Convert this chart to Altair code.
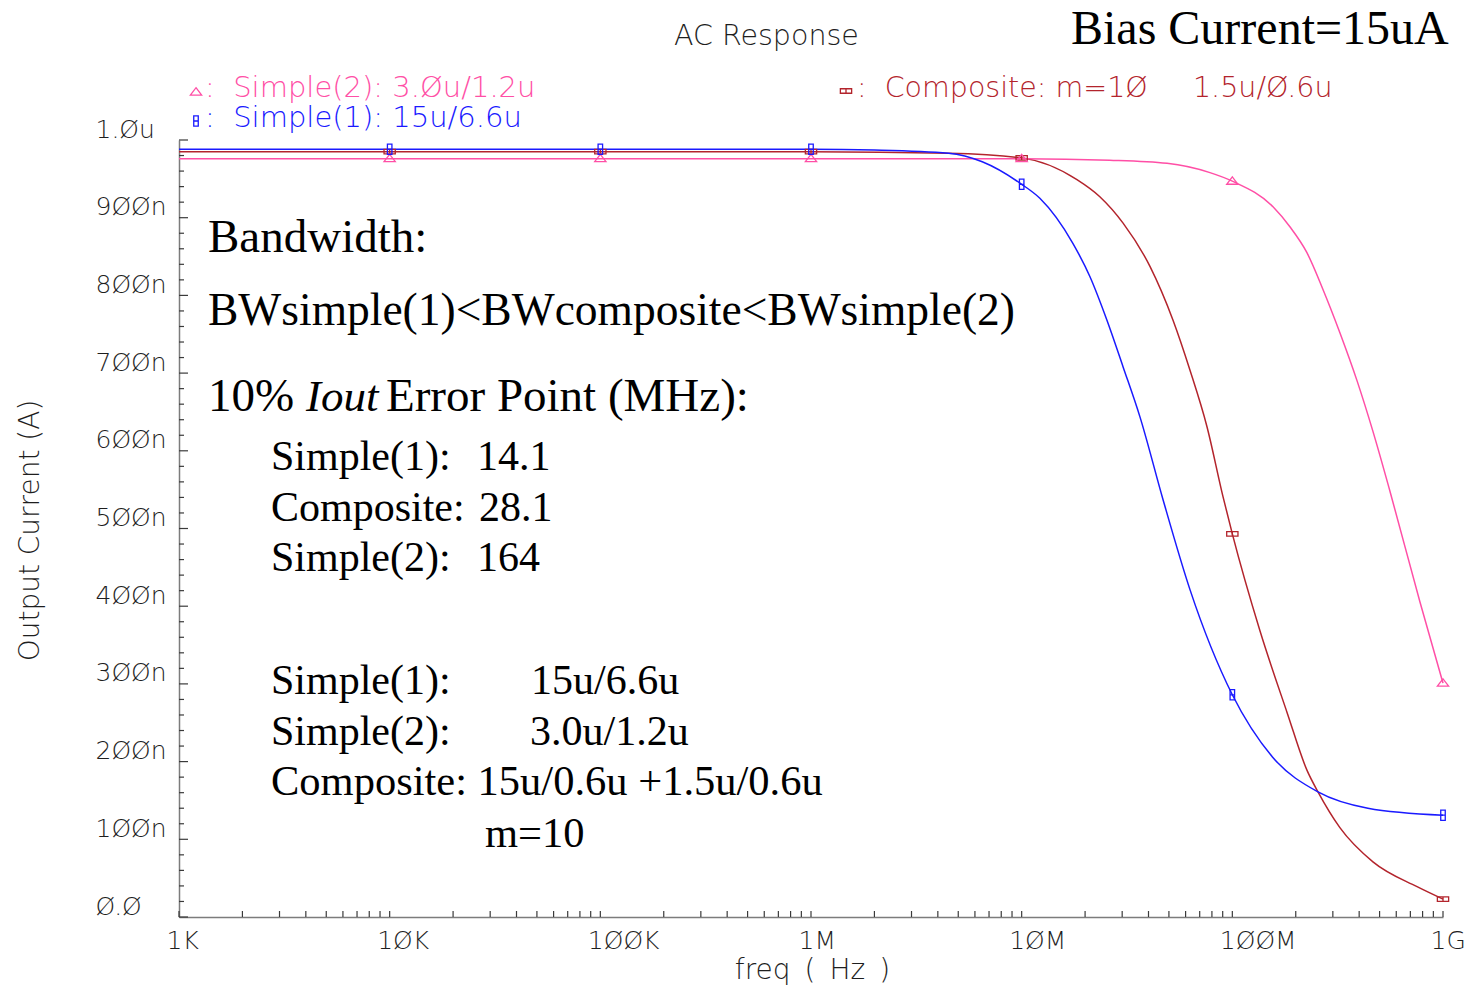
import altair as alt
import pandas as pd

# ---------------- data (freq in Hz, output current in nA) ----------------
series_names = ["Simple(1)", "Composite", "Simple(2)"]
series_colors = ["#1a1aff", "#b3242c", "#ff4fa6"]

simple1_freq = [1e3, 1e4, 1e5, 1e6, 2e6, 4.5e6, 6.5e6, 1e7, 1.22e7, 1.75e7, 2.11e7, 2.54e7,
                3.03e7, 3.64e7, 4.69e7, 6.3e7, 1e8, 1.55e8, 2.55e8, 4.4e8, 1e9]
simple1_cur = [988, 988, 988, 988, 987, 983, 972, 943, 925, 867, 824, 768,
               708, 644, 537, 421, 286, 206, 161, 140, 131]

composite_freq = [1e3, 1e4, 1e5, 1e6, 4.5e6, 1e7, 1.83e7, 2.35e7, 3.03e7, 4.07e7, 5.23e7, 6.29e7,
                  7.58e7, 9.03e7, 1e8, 1.35e8, 1.82e8, 2.26e8, 2.55e8, 3.24e8, 4.65e8, 7.53e8, 1e9]
composite_cur = [985, 985, 985, 985, 983, 977, 949, 927, 893, 837, 768, 704,
                 631, 541, 493, 369, 263, 189, 161, 115, 71, 39, 23]

simple2_freq = [1e3, 1e4, 1e5, 1e6, 1e7, 2.62e7, 4.9e7, 7.83e7, 1e8, 1.56e8, 1.88e8, 2.26e8,
                2.69e8, 3.24e8, 3.91e8, 4.65e8, 5.6e8, 7.78e8, 1e9]
simple2_cur = [976, 976, 976, 976, 976, 974, 970, 958, 947, 914, 888, 855,
               808, 752, 690, 625, 548, 405, 301]

marker_freqs = [1e4, 1e5, 1e6, 1e7, 1e8, 1e9]

x_tick_values = [1e3, 1e4, 1e5, 1e6, 1e7, 1e8, 1e9]
x_tick_labels = ["1K", "1ØK", "1ØØK", "1M", "1ØM", "1ØØM", "1G"]
y_tick_values = [0, 100, 200, 300, 400, 500, 600, 700, 800, 900, 1000]
y_tick_labels = ["Ø.Ø", "1ØØn", "2ØØn", "3ØØn", "4ØØn", "5ØØn", "6ØØn", "7ØØn", "8ØØn", "9ØØn", "1.Øu"]

# ---------------- layout ----------------
L, T, W, H = 179, 140, 1264, 777
CAD_FONT = "DejaVu Sans"
SERIF = "Liberation Serif"
AXIS_GRAY = "#7c7c7c"
TICK_COL = "#3a3a3a"
TEXT_COL = "#1e1e1e"
NB = "\u00a0"
EN = "\u2002"


def frame(freqs, curs, name):
    return pd.DataFrame({"freq": freqs, "cur": curs, "series": name})


df1 = frame(simple1_freq, simple1_cur, "Simple(1)")
dfc = frame(composite_freq, composite_cur, "Composite")
df2 = frame(simple2_freq, simple2_cur, "Simple(2)")

xscale = alt.Scale(type="log", domain=[1e3, 1e9], nice=False)
yscale = alt.Scale(domain=[0, 1000], nice=False, zero=True)

x_label_expr = " : ".join(
    [f"datum.value < {v * 3:g} ? '{lab}'" for v, lab in zip(x_tick_values[:-1], x_tick_labels[:-1])]
) + f" : '{x_tick_labels[-1]}'"
y_label_expr = " : ".join(
    [f"datum.value < {v + 50} ? '{lab}'" for v, lab in zip(y_tick_values[:-1], y_tick_labels[:-1])]
) + f" : '{y_tick_labels[-1]}'"

xaxis = alt.Axis(values=x_tick_values, labelExpr=x_label_expr, ticks=False, tickSize=0, grid=False,
                 domainColor=AXIS_GRAY, domainWidth=1.5, labelFont=CAD_FONT, labelFontSize=25,
                 labelFontWeight=200, labelColor=TEXT_COL, labelAlign="left", labelOffset=-13,
                 labelBaseline="alphabetic", labelPadding=31, labelFlush=False, labelOverlap=False,
                 labelBound=False, title=f"freq{EN}({EN}Hz{EN})", titleFont=CAD_FONT, titleFontSize=28,
                 titleFontWeight=200, titleColor=TEXT_COL, titleX=633, titleY=61,
                 titleAlign="center", titleBaseline="alphabetic")
yaxis = alt.Axis(values=y_tick_values, labelExpr=y_label_expr, ticks=False, tickSize=0, grid=False,
                 domainColor=AXIS_GRAY, domainWidth=1.5, labelFont=CAD_FONT, labelFontSize=25,
                 labelFontWeight=200, labelColor=TEXT_COL, labelAlign="left", labelPadding=84,
                 labelBaseline="alphabetic", labelOffset=-3, labelFlush=False, labelOverlap=False,
                 labelBound=False, title="Output Current (A)", titleFont=CAD_FONT, titleFontSize=28,
                 titleFontWeight=200, titleColor=TEXT_COL, titleX=-149, titleY=390, titleAngle=270,
                 titleAlign="center", titleBaseline="middle")

X = alt.X("freq:Q", scale=xscale, axis=xaxis)
Y = alt.Y("cur:Q", scale=yscale, axis=yaxis)

# ---------------- tick marks (inside, drawn from the scales) ----------------
x_minor = [m * 10 ** k for k in range(3, 9) for m in range(1, 10)] + [1e9]
x_ticks = alt.Chart(pd.DataFrame({"freq": x_minor})).mark_rule(color=TICK_COL, strokeWidth=1.2).encode(
    x=X, y=alt.value(H), y2=alt.value(H - 6))

y_major = alt.Chart(pd.DataFrame({"cur": y_tick_values})).mark_rule(color=TICK_COL, strokeWidth=1.2).encode(
    y=Y, x=alt.value(0), x2=alt.value(9))
y_minor_vals = [v for v in range(20, 1000, 20) if v % 100 != 0]
y_minor = alt.Chart(pd.DataFrame({"cur": y_minor_vals})).mark_rule(color=TICK_COL, strokeWidth=1.2).encode(
    y=Y, x=alt.value(0), x2=alt.value(5))

# ---------------- curves and markers ----------------
SHAPE_S1 = "M-0.22,-0.5L0.22,-0.5L0.22,0.5L-0.22,0.5Z M-0.22,0L0.22,0"
SHAPE_COMP = "M-0.55,-0.22L0.55,-0.22L0.55,0.22L-0.55,0.22Z M0,-0.22L0,0.22"
SHAPE_S2 = "M0,-0.42L0.55,0.3L-0.55,0.3Z"
MARK_SIZE = 420


def curve(df, color):
    return alt.Chart(df).mark_line(color=color, strokeWidth=1.5, interpolate="monotone").encode(x=X, y=Y)


def markers(df, color, shape):
    d = df[df["freq"].isin(marker_freqs)]
    return alt.Chart(d).mark_point(color=color, shape=shape, filled=False, size=MARK_SIZE,
                                   strokeWidth=1.3, opacity=1).encode(x=X, y=Y)


# ---------------- annotation text helpers ----------------
def txt(s, x, y, size, font, color="black", style="normal", weight="normal"):
    return alt.Chart(pd.DataFrame({"t": [s]})).mark_text(
        text=s, font=font, fontSize=size, color=color, fontStyle=style, fontWeight=weight,
        align="left", baseline="alphabetic").encode(x=alt.value(x - L), y=alt.value(y - T))


def sym(x, y, color, shape):
    return alt.Chart(pd.DataFrame({"t": [0]})).mark_point(
        color=color, shape=shape, filled=False, size=MARK_SIZE, strokeWidth=1.3, opacity=1).encode(
        x=alt.value(x - L), y=alt.value(y - T))


pink, blue, red = series_colors[2], series_colors[0], series_colors[1]

legend_layers = [
    sym(196, 92, pink, SHAPE_S2),
    txt(f":{NB}{NB}Simple(2): 3.Øu/1.2u", 205, 97, 29, CAD_FONT, pink, weight=200),
    sym(196, 121, blue, SHAPE_S1),
    txt(f":{NB}{NB}Simple(1): 15u/6.6u", 205, 127, 29, CAD_FONT, blue, weight=200),
    sym(846, 91, red, SHAPE_COMP),
    txt(f":{NB}{NB}Composite: m=1Ø{NB}{NB}{NB}{NB}{NB}1.5u/Ø.6u", 857, 97, 28.5, CAD_FONT, red, weight=200),
]

annot_layers = [
    txt("AC Response", 674, 45, 28.5, CAD_FONT, TEXT_COL, weight=200),
    txt("Bias Current=15uA", 1071, 44, 48, SERIF),
    txt("Bandwidth:", 208, 252, 47, SERIF),
    txt("BWsimple(1)<BWcomposite<BWsimple(2)", 208, 325, 45.5, SERIF),
    txt("10%", 208, 411, 47, SERIF),
    txt("Iout", 306, 411, 45, SERIF, style="italic"),
    txt("Error Point (MHz):", 386, 411, 47, SERIF),
    txt("Simple(1):", 271, 470, 42, SERIF),
    txt("14.1", 477, 470, 42, SERIF),
    txt("Composite:", 271, 521, 42, SERIF),
    txt("28.1", 479, 521, 42, SERIF),
    txt("Simple(2):", 271, 571, 42, SERIF),
    txt("164", 477, 571, 42, SERIF),
    txt("Simple(1):", 271, 694, 42, SERIF),
    txt("15u/6.6u", 531, 694, 42, SERIF),
    txt("Simple(2):", 271, 745, 42, SERIF),
    txt("3.0u/1.2u", 530, 745, 42, SERIF),
    txt("Composite: 15u/0.6u +1.5u/0.6u", 271, 795, 42.5, SERIF),
    txt("m=10", 485, 847, 42.5, SERIF),
]

chart = alt.layer(
    x_ticks, y_major, y_minor,
    curve(dfc, red), curve(df2, pink), curve(df1, blue),
    markers(dfc, red, SHAPE_COMP), markers(df2, pink, SHAPE_S2), markers(df1, blue, SHAPE_S1),
    *legend_layers, *annot_layers,
).properties(
    width=W, height=H,
    autosize=alt.AutoSizeParams(type="none"),
    padding={"left": L, "top": T, "right": 1468 - L - W, "bottom": 986 - T - H},
    background="white",
).configure_view(stroke=None)

chart.save("out.html", embed_options={"renderer": "svg", "actions": False})
